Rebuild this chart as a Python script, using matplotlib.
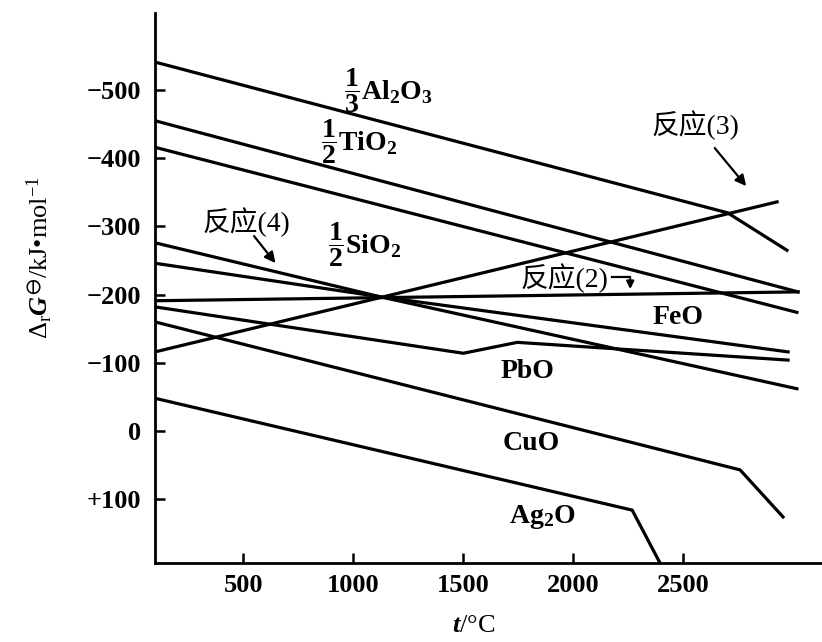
import matplotlib
matplotlib.use("Agg")
import matplotlib.pyplot as plt
from matplotlib.ticker import FixedLocator, FixedFormatter

# temperature (degC) / Delta_r G (kJ/mol)
t_al = [100, 2700, 2970]
g_al = [-541, -320, -265]
t_ti = [100, 3020]
g_ti = [-455, -204]
t_si = [100, 3015]
g_si = [-416, -174]
t_r4 = [100, 1120, 3015]
g_r4 = [-276, -197, -62]
t_fe = [100, 1120, 2975]
g_fe = [-246, -197, -116]
t_r2 = [100, 3020]
g_r2 = [-191, -204]
t_pb = [100, 1500, 1745, 2975]
g_pb = [-182, -114, -130, -104]
t_cu = [100, 2757, 2952]
g_cu = [-160, 57, 126]
t_r3 = [100, 2925]
g_r3 = [-116, -336]
t_ag = [100, 2267, 2394]
g_ag = [-48, 116, 194]

xticks = [500, 1000, 1500, 2000, 2500]
yticks = [-500, -400, -300, -200, -100, 0, 100]
ytick_labels = ["\u2212500", "\u2212400", "\u2212300", "\u2212200", "\u2212100", "0", "+100"]

fam = ['Liberation Serif', 'DejaVu Sans', 'Noto Sans CJK SC']
plt.rcParams['font.family'] = fam
plt.rcParams['font.weight'] = 'bold'
plt.rcParams['mathtext.fontset'] = 'custom'
plt.rcParams['mathtext.rm'] = 'Liberation Serif:bold'
plt.rcParams['mathtext.it'] = 'Liberation Serif:italic:bold'
plt.rcParams['mathtext.bf'] = 'Liberation Serif:bold'
plt.rcParams['mathtext.default'] = 'regular'

fig = plt.figure(figsize=(8.22, 6.42), dpi=100)
ax = fig.add_axes([0.1886, 0.1231, 0.8114, 0.8567])

lw = 2.3
for tt, gg in [(t_al, g_al), (t_ti, g_ti), (t_si, g_si), (t_r4, g_r4), (t_fe, g_fe),
               (t_r2, g_r2), (t_pb, g_pb), (t_cu, g_cu), (t_r3, g_r3), (t_ag, g_ag)]:
    ax.plot(tt, gg, c='black', lw=lw, solid_joinstyle='miter')

ax.set_xlim(100, 3129)
ax.set_ylim(193.5, -613)

ax.spines['top'].set_visible(False)
ax.spines['right'].set_visible(False)
ax.spines['left'].set_linewidth(2)
ax.spines['bottom'].set_linewidth(2)
ax.xaxis.set_major_locator(FixedLocator(xticks))
ax.yaxis.set_major_locator(FixedLocator(yticks))
ax.yaxis.set_major_formatter(FixedFormatter(ytick_labels))
ax.tick_params(direction='in', width=1.8, length=7, labelsize=19, pad=10)
ax.tick_params(axis='x', pad=8)
for lab in ax.get_xticklabels() + ax.get_yticklabels():
    lab.set_fontweight('bold')

ax.set_xlabel("$\\mathit{t}$/\u00b0C", fontsize=19)
ax.xaxis.set_label_coords(0.477, -0.095)
ax.set_ylabel("$\\Delta_{r}\\mathit{G}^{\\ominus}$/kJ\u2022mol$^{-1}$", fontsize=19)
ax.yaxis.set_label_coords(-0.15, 0.556)

fs = 20
ax.text(960, -499, "$\\dfrac{1}{3}$Al$_2$O$_3$", fontsize=fs, va='center', ha='left')
ax.text(855, -424, "$\\dfrac{1}{2}$TiO$_2$", fontsize=fs, va='center', ha='left')
ax.text(885, -273, "$\\dfrac{1}{2}$SiO$_2$", fontsize=fs, va='center', ha='left')
ax.text(2476, -167, "FeO", fontsize=fs, va='center', ha='center')
ax.text(1790, -87, "PbO", fontsize=fs, va='center', ha='center')
ax.text(1808, 18, "CuO", fontsize=fs, va='center', ha='center')
ax.text(1858, 126, "Ag$_2$O", fontsize=fs, va='center', ha='center')

ax.text(515, -306, "反应(4)", fontsize=20, va='center', ha='center', fontweight='normal')
ax.annotate("", xy=(655, -243), xytext=(542, -289),
            arrowprops=dict(arrowstyle='-|>', color='black', lw=1.6, mutation_scale=16))
ax.text(2553, -449, "反应(3)", fontsize=20, va='center', ha='center', fontweight='normal')
ax.annotate("", xy=(2793, -356), xytext=(2634, -418),
            arrowprops=dict(arrowstyle='-|>', color='black', lw=1.6, mutation_scale=16))
ax.text(1958, -224, "反应(2)", fontsize=20, va='center', ha='center', fontweight='normal')
ax.plot([2176, 2258], [-226, -226], c='black', lw=1.6)
ax.annotate("", xy=(2258, -204), xytext=(2258, -227),
            arrowprops=dict(arrowstyle='-|>', color='black', lw=1.6, mutation_scale=11))

fig.savefig("out.png", dpi=100)
